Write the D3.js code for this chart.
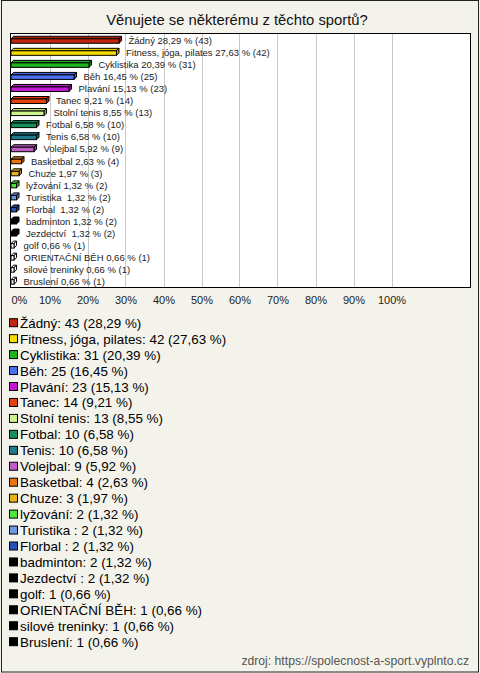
<!DOCTYPE html>
<html><head><meta charset="utf-8">
<script src="https://cdn.jsdelivr.net/npm/d3@7/dist/d3.min.js"></script>
<style>
html,body{margin:0;padding:0;background:#f4f3eb;}
svg{display:block;font-family:"Liberation Sans",Arial,sans-serif;}
text{white-space:pre;}
</style></head>
<body>
<svg id="c" width="480" height="673"></svg>
<script>
const title = "Věnujete se některému z těchto sportů?";
const source = "zdroj: https://spolecnost-a-sport.vyplnto.cz";
const categories = ["Žádný","Fitness, jóga, pilates","Cyklistika","Běh","Plavání","Tanec","Stolní tenis","Fotbal","Tenis","Volejbal","Basketbal","Chuze","lyžování","Turistika ","Florbal ","badminton","Jezdectví ","golf","ORIENTAČNÍ BĚH","silové treninky","Bruslení"];
const counts = [43,42,31,25,23,14,13,10,10,9,4,3,2,2,2,2,2,1,1,1,1];
const percents = [28.29,27.63,20.39,16.45,15.13,9.21,8.55,6.58,6.58,5.92,2.63,1.97,1.32,1.32,1.32,1.32,1.32,0.66,0.66,0.66,0.66];
const colors = ["#c0250f","#f7dc00","#1eb41e","#4a72f0","#c21ad2","#e2420e","#cdf38a","#16915a","#1f7a8c","#c25cc8","#e67412","#e6b21a","#4ee63c","#6a98e4","#2452b8","#000000","#000000","#000000","#000000","#000000","#000000"];
const xTicks = [0,10,20,30,40,50,60,70,80,90,100];

const fmt = v => v.toFixed(2).replace(".", ",");
const svg = d3.select("#c");

svg.append("rect").attr("x",1.5).attr("y",0.5).attr("width",477).attr("height",671.5)
  .attr("fill","#f4f3eb").attr("stroke","#222").attr("stroke-width",1);

svg.append("text").attr("x",237).attr("y",25).attr("text-anchor","middle")
  .attr("font-size",14.8).attr("fill","#111").text(title);

const plot = {l:10.5, t:33.5, r:470.5, b:287.5};
svg.append("rect").attr("x",plot.l).attr("y",plot.t).attr("width",plot.r-plot.l).attr("height",plot.b-plot.t)
  .attr("fill","#fff");

const x = d3.scaleLinear().domain([0,100]).range([11.5,391.5]);
const y = d3.scaleBand().domain(categories).range([34,287]).padding(0);

svg.append("g").selectAll("line").data(xTicks.slice(1)).join("line")
  .attr("x1",d=>Math.round(x(d))+0.5).attr("x2",d=>Math.round(x(d))+0.5)
  .attr("y1",plot.t).attr("y2",plot.b).attr("stroke","#c8c8c8").attr("stroke-width",1);

svg.append("rect").attr("x",plot.l).attr("y",plot.t).attr("width",plot.r-plot.l).attr("height",plot.b-plot.t)
  .attr("fill","none").attr("stroke","#000").attr("stroke-width",1);

const ax = svg.append("g").attr("transform",`translate(0,${plot.b})`)
  .call(d3.axisBottom(x).tickValues(xTicks).tickSize(0).tickPadding(9).tickFormat(d=>d+"%"));
ax.select(".domain").remove();
ax.selectAll("text").attr("font-size",11).attr("fill","#222").attr("font-family","Liberation Sans, Arial, sans-serif");
ax.selectAll(".tick").filter(d=>d===0).select("text").attr("text-anchor","start").attr("dx",-0.5);

const bh = 4.5, dp = 2.5;
const data = categories.map((c,i)=>({c, n:counts[i], p:percents[i], col:colors[i]}));
const shade = (c,k) => { const h = d3.hsl(c); return h.l < 0.05 ? c : d3.rgb(c).darker(k).toString(); };
const bars = svg.append("g").selectAll("g").data(data).join("g");
bars.each(function(d){
  const g = d3.select(this);
  const cy = y(d.c) + y.bandwidth()/2 + 0.5;
  const x0 = x(0)-0.5, x1 = x(d.p);
  const y0 = cy - bh/2 + 0.5, y1 = cy + bh/2 + 0.5;
  const isBlack = d.col === "#000000";
  const face = isBlack && d.p < 1 ? "#fff" : d.col;
  g.append("path").attr("d",`M${x0},${y0}L${x0+dp},${y0-dp}L${x1+dp},${y0-dp}L${x1},${y0}Z`)
    .attr("fill",isBlack && d.p < 1 ? "#fff" : shade(d.col,0.2)).attr("stroke","#000").attr("stroke-width",1).attr("stroke-linejoin","round");
  g.append("path").attr("d",`M${x1},${y0}L${x1+dp},${y0-dp}L${x1+dp},${y1-dp}L${x1},${y1}Z`)
    .attr("fill",isBlack && d.p < 1 ? "#fff" : shade(d.col,0.8)).attr("stroke","#000").attr("stroke-width",1).attr("stroke-linejoin","round");
  g.append("rect").attr("x",x0).attr("y",y0).attr("width",x1-x0).attr("height",y1-y0)
    .attr("fill",face).attr("stroke","#000").attr("stroke-width",1);
  g.append("text").attr("x",x1+dp+7).attr("y",cy+3.5).attr("font-size",9.5).attr("fill","#222")
    .text(`${d.c} ${fmt(d.p)} % (${d.n})`);
});

const lg = svg.append("g").selectAll("g").data(data).join("g")
  .attr("transform",(d,i)=>`translate(0,${322.7 + i*15.95})`);
lg.append("rect").attr("x",9.5).attr("y",-4).attr("width",8).attr("height",8)
  .attr("fill",d=>d.col).attr("stroke","#000").attr("stroke-width",1);
lg.append("text").attr("x",20).attr("y",5).attr("font-size",13.4).attr("fill","#000")
  .text(d=>`${d.c}: ${d.n} (${fmt(d.p)} %)`);

svg.append("text").attr("x",469).attr("y",665).attr("text-anchor","end")
  .attr("font-size",12.2).attr("fill","#555").text(source);
</script>
</body></html>
